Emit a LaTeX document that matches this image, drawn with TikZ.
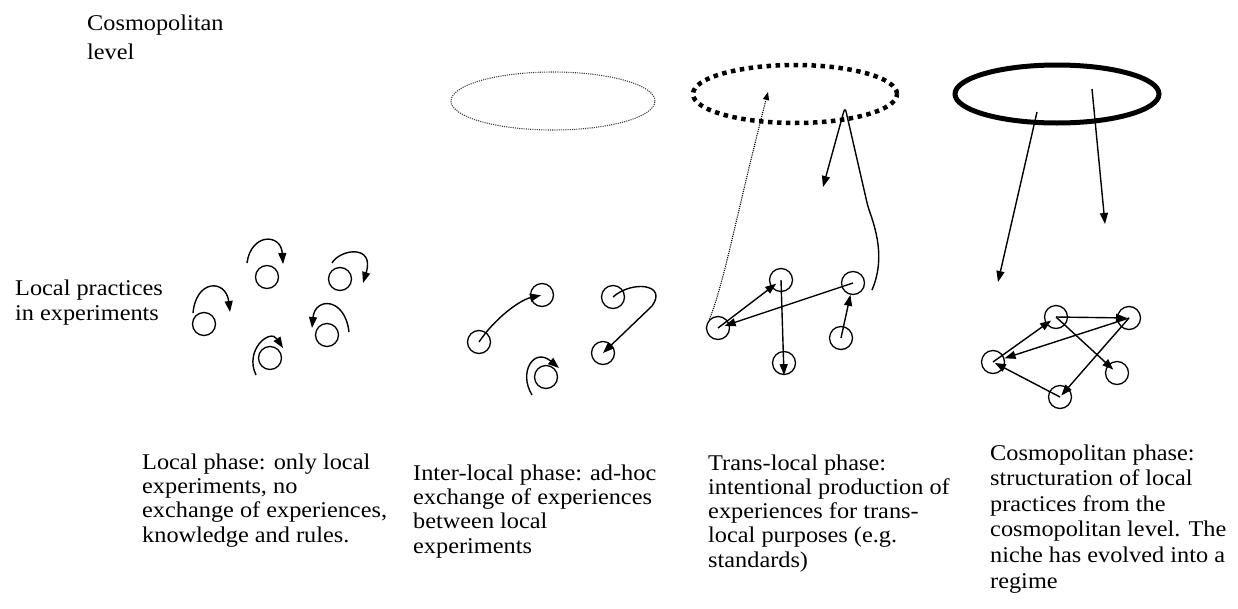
\documentclass[tikz,border=0pt]{standalone}
\usepackage{fontspec}
\setmainfont[FakeStretch=1.08]{Liberation Serif}
\usetikzlibrary{arrows.meta,calc,shapes.geometric}
\begin{document}
\begin{tikzpicture}[x=1pt,y=-1pt,
  exp/.style={circle,draw,line width=1.3pt,minimum size=23pt,inner sep=0pt},
  link/.style={line width=1.4pt,-{Triangle[length=11pt,width=8pt]}},
  txt/.style={anchor=base west,align=left,inner sep=0pt,font=\fontsize{22.5}{24.2}\selectfont},
  level/.style={ellipse,minimum width=204pt,minimum height=58pt,inner sep=0pt},
]
\useasboundingbox (0,0) rectangle (1238,608);

% labels (anchor at the baseline of the last line)
\node[txt,font=\fontsize{22.5}{29}\selectfont] (cl) at (87,59) {Cosmopolitan\\level};
\node[txt] (lp) at (15,320) {Local practices\\in experiments};

\node[txt] (t1) at (142,542) {Local phase: only local\\experiments, no\\exchange of experiences,\\knowledge and rules.};
\node[txt] (t2) at (413,553) {Inter-local phase: ad-hoc\\exchange of experiences\\between local\\experiments};
\node[txt] (t3) at (708,567) {Trans-local phase:\\intentional production of\\experiences for trans-\\local purposes (e.g.\\standards)};
\node[txt,font=\fontsize{22.5}{25.6}\selectfont] (t4) at (990,588) {Cosmopolitan phase:\\structuration of local\\practices from the\\cosmopolitan level. The\\niche has evolved into a\\regime};

% ---------- panel 1
\node[exp] (A) at (267,277) {};
\node[exp] (B) at (340,279) {};
\node[exp] (C) at (204,324) {};
\node[exp] (D) at (327,335) {};
\node[exp] (E) at (270,358) {};
\draw[link] ($(A)+(-20,-14)$) .. controls ($(A)+(-16,-44)$) and ($(A)+(14,-44)$) .. ($(A)+(16,-13)$);
\draw[link] ($(B)+(-8,-16)$) .. controls ($(B)+(0,-30)$) and ($(B)+(35,-35)$) .. ($(B)+(23,4)$);
\draw[link] ($(C)+(-11,-11)$) .. controls ($(C)+(-8,-45)$) and ($(C)+(22,-45)$) .. ($(C)+(26,-12)$);
\draw[link] ($(D)+(22,-3)$) .. controls ($(D)+(18,-38)$) and ($(D)+(-12,-38)$) .. ($(D)+(-15,-7)$);
\draw[link] ($(E)+(-14,17)$) .. controls ($(E)+(-26,-8)$) and ($(E)+(0,-30)$) .. ($(E)+(13,-10)$);

% ---------- panel 2
\node[level,draw=black!75,line width=1.1pt,dash pattern=on 1.1pt off 1.1pt] (L2) at (553,101) {};
\node[exp] (F) at (479,342) {};
\node[exp] (G) at (542,295) {};
\node[exp] (H) at (613,297) {};
\node[exp] (I) at (603,353) {};
\node[exp] (J) at (546,377) {};
\draw[link,shorten >=1pt] (F.center) .. controls (495,318) and (520,300) .. (G.center);
\draw[link] (H.center) .. controls (632,280) and (668,284) .. (652,306) -- (I.center);
\draw[link] ($(J)+(-14,18)$) .. controls ($(J)+(-28,-5)$) and ($(J)+(-12,-30)$) .. ($(J)+(13,-9)$);

% ---------- panel 3
\node[level,draw,line width=4.5pt,dash pattern=on 4.5pt off 4.5pt] (L3) at (795,94) {};
\node[exp] (K) at (781,280) {};
\node[exp] (Lc) at (853,283) {};
\node[exp] (M) at (718,328) {};
\node[exp] (N) at (784,363) {};
\node[exp] (O) at (841,338) {};
\coordinate (up3) at (768,92);
\coordinate (dn3) at (823,187);
\coordinate (st3) at (872,290);
\draw[line width=1.1pt,dash pattern=on 1.1pt off 1.1pt,-{Triangle[length=8pt,width=6pt]}]
  (M.135) .. controls (725,280) and (735,220) .. (up3);
\draw[link,rounded corners=5pt] (st3) .. controls (884,262) and (878,235) .. (868,207) -- (845,107) -- (dn3);
\draw[link,shorten >=6pt] (M.center) -- (K.center);
\draw[link,shorten >=7pt] (Lc.center) -- (M.center);
\draw[link] (K.center) -- (N.south);
\draw[link] (O.center) -- (Lc);

% ---------- panel 4
\node[level,draw,line width=5pt] (L4) at (1057,94) {};
\node[exp] (P) at (1056,317) {};
\node[exp] (Q) at (1129,318) {};
\node[exp] (R) at (993,362) {};
\node[exp] (S) at (1117,373) {};
\node[exp] (T) at (1060,397) {};
\coordinate (a4) at (1037,112);
\coordinate (b4) at (1092,89);
\coordinate (a4e) at (998,282);
\coordinate (b4e) at (1105,224);
\draw[link] (a4) -- (a4e);
\draw[link] (b4) -- (b4e);
\draw[link,shorten >=6pt] (R.center) -- (P.center);
\draw[link,shorten >=2pt] (P.center) -- (Q.center);
\draw[link,shorten >=5pt] (P.center) -- (S.center);
\draw[link] (Q.center) -- (R);
\draw[link,shorten >=2pt] (Q.center) -- (T.center);
\draw[link,shorten >=2pt] (T.center) -- (R.center);
\end{tikzpicture}
\end{document}
